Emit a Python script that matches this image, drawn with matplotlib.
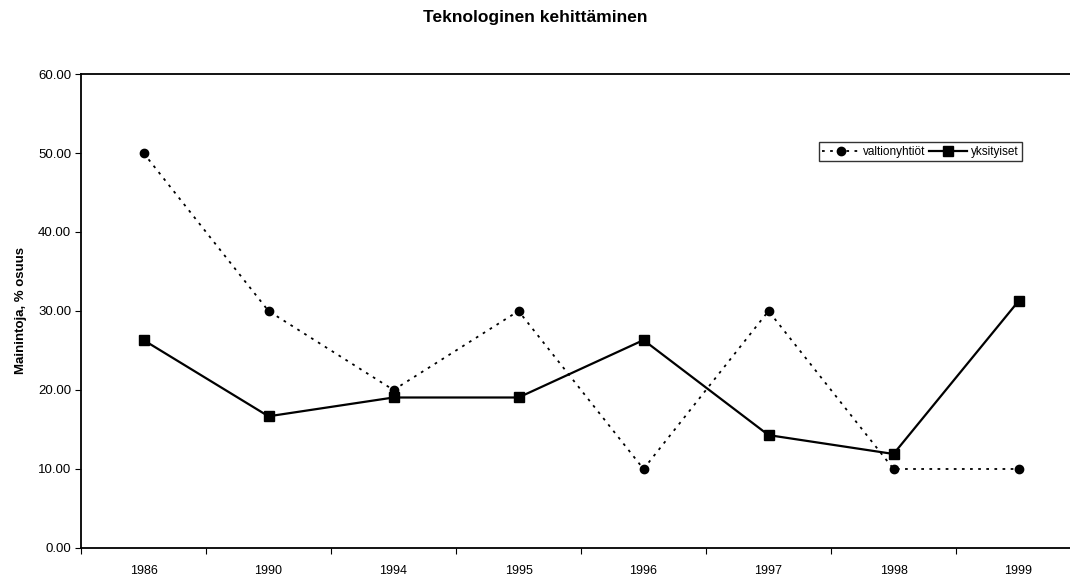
# Teknologinen kehittäminen: valtionyhtiöt vs. yksityiset
import numpy as np
import matplotlib.pyplot as plt
from matplotlib.ticker import FixedLocator, NullFormatter

plt.rcParams['font.family'] = ['Liberation Sans', 'DejaVu Sans']

# ── data ──
years = ['1986', '1990', '1994', '1995', '1996', '1997', '1998', '1999']
valtionyhtiot = [50.0, 30.0, 20.0, 30.0, 10.0, 30.0, 10.0, 10.0]
yksityiset = [26.32, 16.67, 19.05, 19.05, 26.32, 14.29, 11.90, 31.25]

# ── figure ──
fig = plt.figure(figsize=(10.7, 5.8), dpi=100)
ax = fig.add_axes([0.0757, 0.0552, 0.9346, 0.8172])

x = np.arange(len(years))
ax.plot(x, valtionyhtiot, color='black', linestyle=(0, (1.5, 3)), linewidth=1.3,
        marker='o', markersize=6, label='valtionyhtiöt')
ax.plot(x, yksityiset, color='black', linestyle='-', linewidth=1.6,
        marker='s', markersize=6.5, label='yksityiset')

ax.set_xlim(-0.5, len(years) - 0.5)
ax.set_ylim(0, 60)
ax.set_yticks(np.arange(0, 61, 10))
ax.set_yticklabels([f'{v:.2f}' for v in np.arange(0, 61, 10)], fontsize=9.5)

# category labels in the middle, tick marks between categories
ax.xaxis.set_major_locator(FixedLocator(np.arange(-0.5, len(years), 1.0)))
ax.xaxis.set_major_formatter(NullFormatter())
ax.xaxis.set_minor_locator(FixedLocator(x))
ax.set_xticklabels(years, minor=True, fontsize=9)
ax.tick_params(axis='x', which='minor', length=0, pad=12.5)
ax.tick_params(axis='x', which='major', length=4, direction='out')
ax.tick_params(axis='y', length=4, direction='out', pad=3)

for sp in ax.spines.values():
    sp.set_linewidth(1.3)

ax.set_ylabel('Mainintoja, % osuus', fontsize=9.5, fontweight='bold', labelpad=8)
fig.text(0.5, 0.97, 'Teknologinen kehittäminen', ha='center', va='center',
         fontsize=12.5, fontweight='bold')

leg = ax.legend(loc='upper right', bbox_to_anchor=(0.955, 0.755),
                bbox_transform=fig.transFigure, ncol=2, fontsize=8.5,
                frameon=True, fancybox=False, edgecolor='black',
                handlelength=3.2, columnspacing=0.3, handletextpad=0.3,
                borderpad=0.3, borderaxespad=0)
leg.get_frame().set_linewidth(1.0)

plt.savefig('out.png', dpi=100, facecolor='white')
plt.close()
